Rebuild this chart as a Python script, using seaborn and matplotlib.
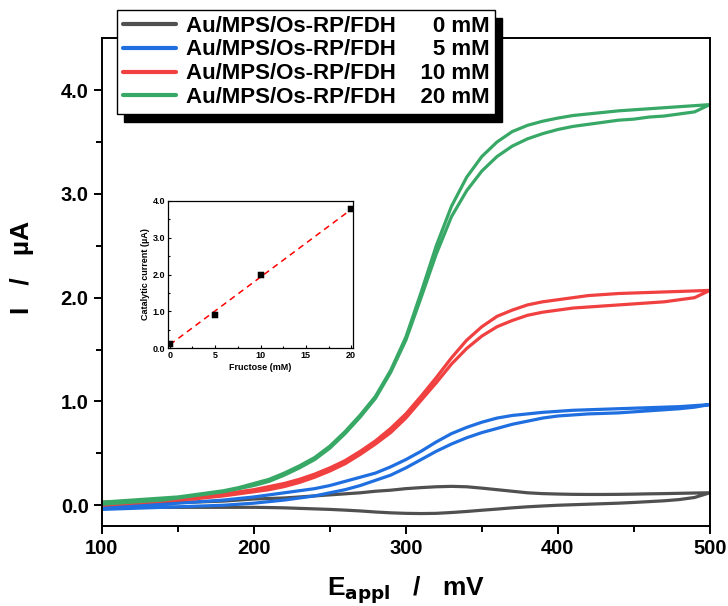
import numpy as np
import pandas as pd
import matplotlib
matplotlib.use("Agg")
import matplotlib.pyplot as plt
import seaborn as sns

# ---------------- data ----------------
E_mV = [100, 110, 120, 130, 140, 150, 160, 170, 180, 190, 200,
        210, 220, 230, 240, 250, 260, 270, 280, 290, 300,
        310, 320, 330, 340, 350, 360, 370, 380, 390, 400,
        410, 420, 430, 440, 450, 460, 470, 480, 490, 500]

# 0 mM (gray)
i0_up = [0.00, 0.005, 0.01, 0.015, 0.02, 0.025, 0.03, 0.035, 0.04, 0.05, 0.06,
         0.065, 0.07, 0.08, 0.09, 0.10, 0.11, 0.12, 0.135, 0.145, 0.16,
         0.17, 0.178, 0.182, 0.178, 0.165, 0.15, 0.135, 0.12, 0.112, 0.108,
         0.105, 0.104, 0.104, 0.105, 0.107, 0.11, 0.112, 0.115, 0.118, 0.12]
i0_dn = [-0.02, -0.02, -0.02, -0.02, -0.02, -0.02, -0.02, -0.02, -0.02, -0.02, -0.02,
         -0.022, -0.025, -0.03, -0.035, -0.04, -0.047, -0.055, -0.065, -0.073, -0.078,
         -0.08, -0.078, -0.07, -0.06, -0.048, -0.037, -0.025, -0.015, -0.007, 0.00,
         0.005, 0.01, 0.015, 0.02, 0.027, 0.035, 0.043, 0.055, 0.075, 0.12]
# 5 mM (blue)
i5_up = [-0.01, -0.005, 0.00, 0.005, 0.01, 0.02, 0.03, 0.04, 0.05, 0.065, 0.08,
         0.10, 0.12, 0.14, 0.16, 0.19, 0.23, 0.27, 0.31, 0.37, 0.44,
         0.52, 0.61, 0.69, 0.75, 0.80, 0.84, 0.865, 0.88, 0.895, 0.905,
         0.915, 0.92, 0.925, 0.93, 0.935, 0.94, 0.945, 0.95, 0.96, 0.97]
i5_dn = [-0.04, -0.035, -0.03, -0.025, -0.02, -0.015, -0.01, -0.005, 0.00, 0.01, 0.02,
         0.035, 0.05, 0.07, 0.09, 0.12, 0.15, 0.19, 0.24, 0.29, 0.36,
         0.44, 0.52, 0.59, 0.65, 0.70, 0.74, 0.78, 0.81, 0.84, 0.86,
         0.87, 0.88, 0.885, 0.89, 0.90, 0.91, 0.92, 0.93, 0.945, 0.97]
# 10 mM (red)
i10_up = [0.03, 0.035, 0.04, 0.05, 0.06, 0.07, 0.08, 0.095, 0.11, 0.13, 0.15,
          0.18, 0.21, 0.25, 0.30, 0.36, 0.43, 0.52, 0.62, 0.74, 0.88,
          1.05, 1.23, 1.42, 1.59, 1.72, 1.82, 1.88, 1.93, 1.96, 1.98,
          2.00, 2.02, 2.03, 2.04, 2.045, 2.05, 2.055, 2.06, 2.065, 2.07]
i10_dn = [0.00, 0.01, 0.02, 0.03, 0.04, 0.05, 0.06, 0.075, 0.09, 0.11, 0.13,
          0.15, 0.18, 0.22, 0.27, 0.33, 0.40, 0.49, 0.59, 0.70, 0.84,
          1.01, 1.18, 1.36, 1.51, 1.63, 1.72, 1.78, 1.83, 1.86, 1.88,
          1.90, 1.91, 1.92, 1.93, 1.94, 1.95, 1.96, 1.98, 2.00, 2.07]
# 20 mM (green)
i20_up = [0.03, 0.04, 0.05, 0.06, 0.07, 0.08, 0.10, 0.12, 0.14, 0.17, 0.21,
          0.25, 0.31, 0.38, 0.46, 0.57, 0.71, 0.87, 1.05, 1.30, 1.62,
          2.05, 2.50, 2.88, 3.16, 3.36, 3.50, 3.60, 3.66, 3.70, 3.73,
          3.755, 3.77, 3.785, 3.80, 3.81, 3.82, 3.83, 3.84, 3.85, 3.86]
i20_dn = [0.01, 0.02, 0.03, 0.04, 0.05, 0.07, 0.09, 0.11, 0.13, 0.16, 0.19,
          0.23, 0.29, 0.36, 0.44, 0.55, 0.69, 0.85, 1.03, 1.28, 1.59,
          2.00, 2.42, 2.78, 3.03, 3.22, 3.36, 3.46, 3.53, 3.58, 3.62,
          3.65, 3.67, 3.69, 3.71, 3.72, 3.74, 3.75, 3.77, 3.79, 3.86]

labels = ["Au/MPS/Os-RP/FDH  \u2007\u20070 mM",
          "Au/MPS/Os-RP/FDH  \u2007\u20075 mM",
          "Au/MPS/Os-RP/FDH  \u200710 mM",
          "Au/MPS/Os-RP/FDH  \u200720 mM"]
colors = ["#505050", "#1f6fe0", "#f04040", "#38a866"]

# inset data
fructose_mM = [0, 5, 10, 20]
cat_current = [0.11, 0.90, 1.99, 3.77]
fit_x = [0, 20]
fit_y = [0.09, 3.77]

# ---------------- build table ----------------
rows = []
branches = [(i0_up, i0_dn), (i5_up, i5_dn), (i10_up, i10_dn), (i20_up, i20_dn)]
for lab, (up, dn) in zip(labels, branches):
    for e, i in zip(E_mV, up):
        rows.append((lab, e, i))
    for e, i in zip(E_mV[::-1], dn[::-1]):
        rows.append((lab, e, i))
df = pd.DataFrame(rows, columns=["label", "E", "I"])

# ---------------- style ----------------
sns.set_theme(style="ticks")
plt.rcParams["font.family"] = ["Liberation Sans", "DejaVu Sans"]
plt.rcParams["font.weight"] = "bold"
plt.rcParams["mathtext.default"] = "bf"
plt.rcParams["axes.linewidth"] = 1.4
for k in ["text.color", "axes.labelcolor", "xtick.color", "ytick.color", "axes.edgecolor"]:
    plt.rcParams[k] = "black"

fig = plt.figure(figsize=(7.28, 6.06), dpi=100)
ax = fig.add_axes([0.140, 0.132, 0.835, 0.805])

sns.lineplot(data=df, x="E", y="I", hue="label", palette=colors, sort=False,
             estimator=None, linewidth=2.3, ax=ax)

ax.set_xlim(100, 500)
ax.set_ylim(-0.2, 4.5)
ax.set_xticks([100, 200, 300, 400, 500])
ax.set_xticks(np.arange(150, 500, 100), minor=True)
ax.set_yticks([0.0, 1.0, 2.0, 3.0, 4.0])
ax.set_yticks([0.5, 1.5, 2.5, 3.5], minor=True)
ax.set_yticklabels(["0.0", "1.0", "2.0", "3.0", "4.0"])
ax.tick_params(axis="both", which="major", direction="out", length=6, width=1.4,
               labelsize=14.5, colors="black")
ax.tick_params(axis="both", which="minor", direction="out", length=4, width=1.4,
               colors="black")
for lab in ax.get_xticklabels() + ax.get_yticklabels():
    lab.set_fontweight("bold")
for s in ax.spines.values():
    s.set_visible(True)
    s.set_color("black")

ax.set_xlabel("E$_{appl}$   /   mV", fontsize=19, fontweight="bold", labelpad=12)
ax.set_ylabel("I   /   \u00b5A", fontsize=19, fontweight="bold")
ax.yaxis.set_label_coords(-0.112, 0.53)

handles, labs = ax.get_legend_handles_labels()
leg = ax.legend(handles, labs, loc="upper left", bbox_to_anchor=(117 / 728, 1 - 10 / 606),
                bbox_transform=fig.transFigure, frameon=True, fancybox=False,
                shadow={"ox": 5, "oy": -6, "facecolor": "black", "edgecolor": "black", "alpha": 1},
                prop={"weight": "bold", "size": 16}, handlelength=2.4, handletextpad=0.45,
                labelspacing=0.13, borderpad=0.25, borderaxespad=0)
leg.get_frame().set_edgecolor("black")
leg.get_frame().set_linewidth(1.0)
for line in leg.get_lines():
    line.set_linewidth(3)
for t in leg.get_texts():
    t.set_color("black")

# ---------------- inset ----------------
axi = fig.add_axes([168 / 728, 1 - 348 / 606, 185 / 728, 147 / 606])
sns.lineplot(x=fit_x, y=fit_y, ax=axi, color="red", linewidth=1.1, linestyle=(0, (4, 3)))
sns.scatterplot(x=fructose_mM, y=cat_current, ax=axi, marker="s", color="black",
                s=20, edgecolor="black", zorder=3)
axi.set_xlim(-0.2, 20.2)
axi.set_ylim(0, 4.0)
axi.set_xticks([0, 5, 10, 15, 20])
axi.set_xticks([2.5, 7.5, 12.5, 17.5], minor=True)
axi.set_yticks([0, 1, 2, 3, 4])
axi.set_yticks([0.5, 1.5, 2.5, 3.5], minor=True)
axi.set_yticklabels(["0.0", "1.0", "2.0", "3.0", "4.0"])
axi.tick_params(axis="both", which="major", direction="in", length=2.5, width=0.8,
                labelsize=6.5, pad=2, colors="black")
axi.tick_params(axis="both", which="minor", direction="in", length=1.5, width=0.8,
                colors="black")
for lab in axi.get_xticklabels() + axi.get_yticklabels():
    lab.set_fontweight("bold")
for s in axi.spines.values():
    s.set_visible(True)
    s.set_linewidth(0.9)
    s.set_color("black")
axi.set_xlabel("Fructose (mM)", fontsize=6.5, fontweight="bold", labelpad=2)
axi.set_ylabel("Catalytic current (\u00b5A)", fontsize=6.5, fontweight="bold", labelpad=2)

fig.savefig("out.png", dpi=100)
